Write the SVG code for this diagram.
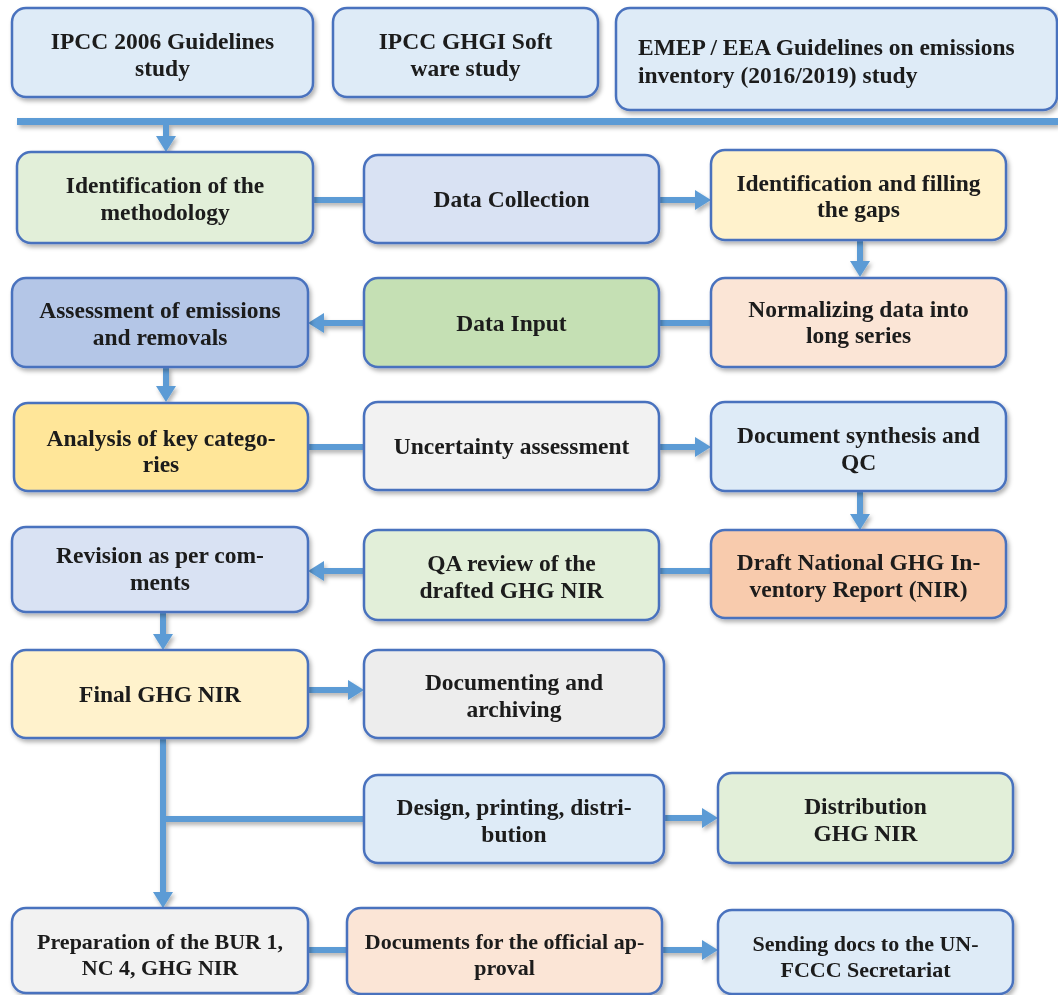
<svg xmlns="http://www.w3.org/2000/svg" width="1058" height="995" viewBox="0 0 1058 995">
<style>
.box{stroke:#4A72BE;stroke-width:2.5}
.t{font-family:"Liberation Serif","Times New Roman",serif;font-weight:bold;font-size:23.5px;fill:#1a1a1a;text-anchor:middle}
.tl{text-anchor:start}
.c{stroke:#5B9BD5;stroke-width:6;fill:none}
</style>
<defs>
<filter id="sh" x="-10%" y="-10%" width="130%" height="140%">
<feDropShadow dx="2" dy="3" stdDeviation="2" flood-color="#000" flood-opacity="0.3"/>
</filter>
<marker id="ah" viewBox="0 0 16 20" markerWidth="16" markerHeight="20" refX="5" refY="10" orient="auto" markerUnits="userSpaceOnUse">
<path d="M0,0 L16,10 L0,20 z" fill="#5B9BD5"/>
</marker>
</defs>
<rect width="1058" height="995" fill="#fff"/>

<g id="connectors" filter="url(#sh)">
<line class="c" x1="17" y1="121.5" x2="1058" y2="121.5" style="stroke-width:7"/>
<line class="c" x1="166" y1="125" x2="166" y2="141" marker-end="url(#ah)"/>
<line class="c" x1="313" y1="200" x2="364" y2="200"/>
<line class="c" x1="659" y1="200" x2="700" y2="200" marker-end="url(#ah)"/>
<line class="c" x1="860" y1="240" x2="860" y2="266" marker-end="url(#ah)"/>
<line class="c" x1="659" y1="323" x2="711" y2="323"/>
<line class="c" x1="364" y1="323" x2="319" y2="323" marker-end="url(#ah)"/>
<line class="c" x1="166" y1="367" x2="166" y2="391" marker-end="url(#ah)"/>
<line class="c" x1="308" y1="447" x2="364" y2="447"/>
<line class="c" x1="659" y1="447" x2="700" y2="447" marker-end="url(#ah)"/>
<line class="c" x1="860" y1="491" x2="860" y2="519" marker-end="url(#ah)"/>
<line class="c" x1="659" y1="571" x2="711" y2="571"/>
<line class="c" x1="364" y1="571" x2="319" y2="571" marker-end="url(#ah)"/>
<line class="c" x1="163" y1="612" x2="163" y2="639" marker-end="url(#ah)"/>
<line class="c" x1="308" y1="690" x2="353" y2="690" marker-end="url(#ah)"/>
<line class="c" x1="163" y1="738" x2="163" y2="897" marker-end="url(#ah)"/>
<line class="c" x1="163" y1="819" x2="364" y2="819"/>
<line class="c" x1="664" y1="818" x2="707" y2="818" marker-end="url(#ah)"/>
<line class="c" x1="308" y1="950" x2="347" y2="950"/>
<line class="c" x1="662" y1="950" x2="707" y2="950" marker-end="url(#ah)"/>
</g>

<g id="n-ipcc2006" filter="url(#sh)">
<rect class="box" x="12" y="8" width="301" height="89" rx="14" fill="#DEEBF7"/>
<text class="t" x="162.5" y="49">IPCC 2006 Guidelines</text>
<text class="t" x="162.5" y="76">study</text>
</g>
<g id="n-ghgi" filter="url(#sh)">
<rect class="box" x="333" y="8" width="265" height="89" rx="14" fill="#DEEBF7"/>
<text class="t" x="465.5" y="49">IPCC GHGI Soft</text>
<text class="t" x="465.5" y="76">ware study</text>
</g>
<g id="n-emep" filter="url(#sh)">
<rect class="box" x="616" y="8" width="441" height="102" rx="14" fill="#DEEBF7"/>
<text class="t tl" x="638" y="55">EMEP / EEA Guidelines on emissions</text>
<text class="t tl" x="638" y="83">inventory (2016/2019) study</text>
</g>

<g id="n-method" filter="url(#sh)">
<rect class="box" x="17" y="152" width="296" height="91" rx="14" fill="#E2EFD9"/>
<text class="t" x="165" y="193">Identification of the</text>
<text class="t" x="165" y="220">methodology</text>
</g>
<g id="n-collect" filter="url(#sh)">
<rect class="box" x="364" y="155" width="295" height="88" rx="14" fill="#D9E2F3"/>
<text class="t" x="511.5" y="207">Data Collection</text>
</g>
<g id="n-gaps" filter="url(#sh)">
<rect class="box" x="711" y="150" width="295" height="90" rx="14" fill="#FFF2CC"/>
<text class="t" x="858.5" y="191">Identification and filling</text>
<text class="t" x="858.5" y="217">the gaps</text>
</g>

<g id="n-assess" filter="url(#sh)">
<rect class="box" x="12" y="278" width="296" height="89" rx="14" fill="#B4C6E7"/>
<text class="t" x="160" y="318">Assessment of emissions</text>
<text class="t" x="160" y="345">and removals</text>
</g>
<g id="n-input" filter="url(#sh)">
<rect class="box" x="364" y="278" width="295" height="89" rx="14" fill="#C5E0B4"/>
<text class="t" x="511.5" y="331">Data Input</text>
</g>
<g id="n-normal" filter="url(#sh)">
<rect class="box" x="711" y="278" width="295" height="89" rx="14" fill="#FBE5D6"/>
<text class="t" x="858.5" y="317">Normalizing data into</text>
<text class="t" x="858.5" y="343">long series</text>
</g>

<g id="n-keycat" filter="url(#sh)">
<rect class="box" x="14" y="403" width="294" height="88" rx="14" fill="#FFE699"/>
<text class="t" x="161" y="446">Analysis of key catego-</text>
<text class="t" x="161" y="472">ries</text>
</g>
<g id="n-uncert" filter="url(#sh)">
<rect class="box" x="364" y="402" width="295" height="88" rx="14" fill="#F2F2F2"/>
<text class="t" x="511.5" y="454">Uncertainty assessment</text>
</g>
<g id="n-synth" filter="url(#sh)">
<rect class="box" x="711" y="402" width="295" height="89" rx="14" fill="#DEEBF7"/>
<text class="t" x="858.5" y="443">Document synthesis and</text>
<text class="t" x="858.5" y="470">QC</text>
</g>

<g id="n-revision" filter="url(#sh)">
<rect class="box" x="12" y="527" width="296" height="85" rx="14" fill="#D9E2F3"/>
<text class="t" x="160" y="563">Revision as per com-</text>
<text class="t" x="160" y="590">ments</text>
</g>
<g id="n-qa" filter="url(#sh)">
<rect class="box" x="364" y="530" width="295" height="90" rx="14" fill="#E2EFD9"/>
<text class="t" x="511.5" y="571">QA review of the</text>
<text class="t" x="511.5" y="598">drafted GHG NIR</text>
</g>
<g id="n-draft" filter="url(#sh)">
<rect class="box" x="711" y="530" width="295" height="88" rx="14" fill="#F8CBAD"/>
<text class="t" x="858.5" y="570">Draft National GHG In-</text>
<text class="t" x="858.5" y="597">ventory Report (NIR)</text>
</g>

<g id="n-final" filter="url(#sh)">
<rect class="box" x="12" y="650" width="296" height="88" rx="14" fill="#FFF2CC"/>
<text class="t" x="160" y="702">Final GHG NIR</text>
</g>
<g id="n-archive" filter="url(#sh)">
<rect class="box" x="364" y="650" width="300" height="88" rx="14" fill="#EDEDED"/>
<text class="t" x="514" y="690">Documenting and</text>
<text class="t" x="514" y="717">archiving</text>
</g>

<g id="n-design" filter="url(#sh)">
<rect class="box" x="364" y="775" width="300" height="88" rx="14" fill="#DEEBF7"/>
<text class="t" x="514" y="815">Design, printing, distri-</text>
<text class="t" x="514" y="842">bution</text>
</g>
<g id="n-distrib" filter="url(#sh)">
<rect class="box" x="718" y="773" width="295" height="90" rx="14" fill="#E2EFD9"/>
<text class="t" x="865.5" y="814">Distribution</text>
<text class="t" x="865.5" y="841">GHG NIR</text>
</g>

<g id="n-prep" filter="url(#sh)">
<rect class="box" x="12" y="908" width="296" height="85" rx="14" fill="#F2F2F2"/>
<text class="t" x="160" y="949" style="font-size:22px">Preparation of the BUR 1,</text>
<text class="t" x="160" y="975" style="font-size:22px">NC 4, GHG NIR</text>
</g>
<g id="n-approval" filter="url(#sh)">
<rect class="box" x="347" y="908" width="315" height="86" rx="14" fill="#FBE5D6"/>
<text class="t" x="504.5" y="949" style="font-size:22px">Documents for the official ap-</text>
<text class="t" x="504.5" y="975" style="font-size:22px">proval</text>
</g>
<g id="n-unfccc" filter="url(#sh)">
<rect class="box" x="718" y="910" width="295" height="84" rx="14" fill="#DEEBF7"/>
<text class="t" x="865.5" y="951" style="font-size:22px">Sending docs to the UN-</text>
<text class="t" x="865.5" y="977" style="font-size:22px">FCCC Secretariat</text>
</g>
</svg>
